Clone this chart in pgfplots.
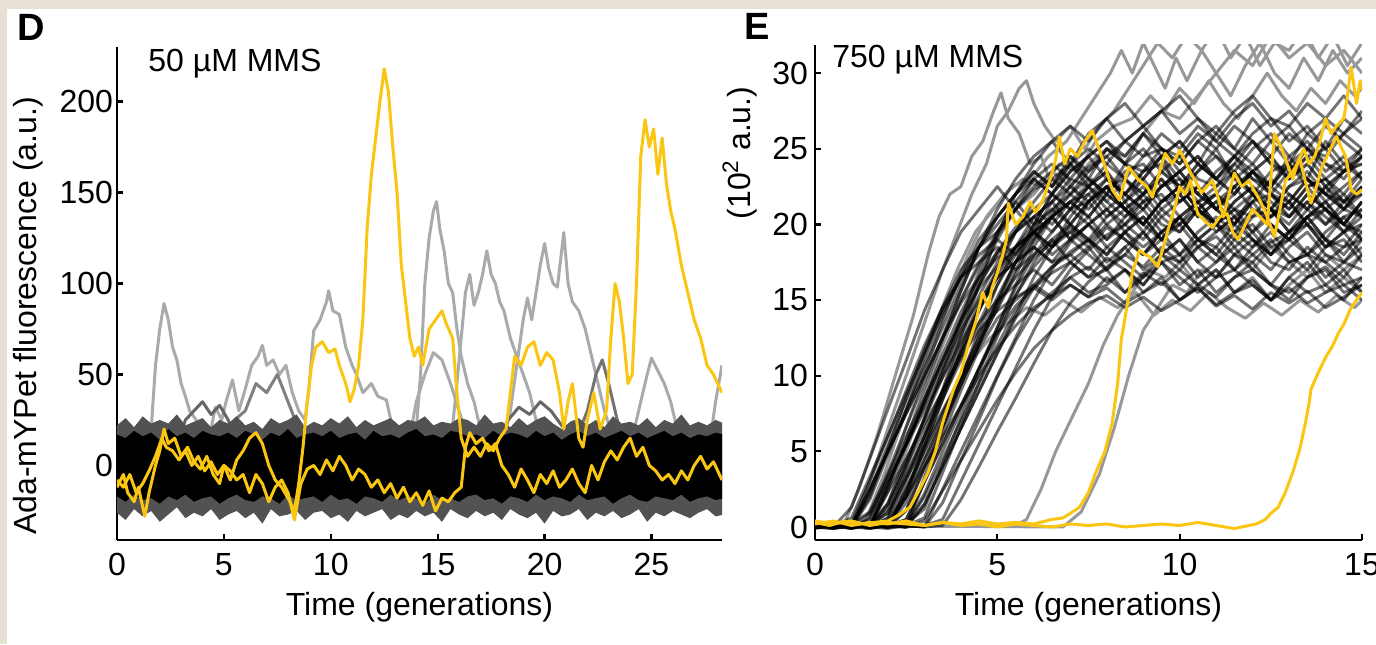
\documentclass[border=0pt]{standalone}
\usepackage{fontspec}
\setmainfont{Liberation Sans}
\usepackage{pgfplots}
\usepackage{pgfplotstable}
\pgfplotsset{compat=1.18}
\definecolor{framebg}{RGB}{231,225,213}
\definecolor{trgold}{RGB}{250,198,18}
\definecolor{trgray}{RGB}{168,170,172}
\definecolor{trgrayE}{RGB}{150,152,154}

% panel E: one row per cell, sampled every 0.5 generation
\pgfplotstableread{
name 0 0.5 1 1.5 2 2.5 3 3.5 4 4.5 5 5.5 6 6.5 7 7.5 8 8.5 9 9.5 10 10.5 11 11.5 12 12.5 13 13.5 14 14.5 15
t1 0.1 0.0 1.3 4.5 7.8 11 14.3 17 19.5 21 22.5 21 23 22 24 22.5 23.5 21.5 23 24.5 22 23.5 25 23 24 22.5 24.5 23 25.5 24 25
t2 0.2 -0.1 0.1 3 6 9 12 14.5 17 18.5 19.5 21 19.5 20.5 19 21.5 20 21 19.5 21 22 20.5 21.5 20 22 21 19.5 21 22.5 21 20.5
t3 0 0.2 0 2.2 5 7.7 10.5 13.2 16 18.5 20.5 22 23.5 22.5 24.5 23 25 24 26 24.5 25.5 24 26 25 27 25.5 24 26 25 27 26
t4 -0.1 0.1 0 2 5.2 8.5 11.7 14.5 16.5 17.5 18.5 17 18 19 17.5 18.5 17 18 19.5 18 17 18.5 17.5 19 18 17 18.5 19.5 18 17.5 19
t5 0.1 0 0.2 1 3.5 6 8.5 11 13.5 16 18 19.5 20.5 21.5 20 21.5 22.5 21 22 20.5 21.5 22.5 21 20 21.5 22 20.5 21.5 20 21 22
t6 0 0.1 -0.1 0.6 3.6 6.6 9.6 12.6 15.6 18.5 21 23 24.5 25.5 24 26 27 25.5 26.5 27.5 26 27 25.5 27 28 26.5 27.5 26 27 28.5 27
t7 0.2 0 0.1 0 2.8 5.5 8.2 11 13.7 15.8 17.2 18.5 19.5 18 19 20 18.5 19.5 18 19 20.5 19 18 19.5 20 18.5 19 20.5 19 18 19.5
t8 0 -0.1 0.1 0 2.6 5.8 9.1 12.4 15.6 18.5 20.5 22 23 22 23.5 24.5 23 22 23.5 24 22.5 23.5 24.5 23 22 23.5 24 22.5 23 24 23
t9 0.1 0.2 0 0.1 1.5 4 6.5 9 11.5 13.5 15 16 17 16 17.5 16.5 17 15.5 16.5 17.5 16 17 15.5 16.5 17.5 16 15 16.5 17 15.5 16
t10 0 0.1 -0.1 0.2 1.2 4.2 7.2 10.2 13.2 16 18.2 19.8 21 20 21.5 22 20.5 21.5 22.5 21 20 21.5 22 21 20.5 22 21 22.5 21 20 21.5
t11 0.2 0 0.1 0 0.6 3.3 6 8.8 11.5 14.3 17 19.5 21.5 23 24 25 24 25.5 26.5 25 24.5 26 25 26.5 25.5 24.5 26 25 26.5 25.5 24.5
t12 0 0.1 0 -0.1 0.1 3 6 9 12 14.8 17 18.5 19.5 20.5 19 20 21 19.5 20.5 19 20 21 19.5 20.5 21.5 20 19 20.5 21 19.5 20
t13 0.1 0 0.2 0 0.1 2 4.5 7 9.5 12 14.5 17 19 20.5 21.5 22.5 21 22 23 21.5 22.5 21 22 23.5 22 21 22.5 23 21.5 22.5 23.5
t14 0 -0.1 0.1 0 0.2 2 5.2 8.5 11.7 14.5 16.5 17.5 18.5 17.5 18 19 17.5 18.5 17 18 19 17.5 18.5 17 18 19 17.5 18 19 17.5 18.5
t15 0.1 0.2 0 0.1 0 1.1 3.9 6.6 9.4 12.1 14.9 17.5 19.5 21.5 23 22.5 24 23 24.5 25 23.5 24.5 23 24 25.5 24 23 24.5 25 23.5 24
t16 0 0.1 -0.1 0.1 0 0.5 3 5.5 8 10.5 13 15.3 17.2 18.5 19.5 20.5 19 20 21 19.5 20.5 19 20 21 19.5 20.5 21.5 20 19 20.5 21
t17 0.2 0 0.1 0 0.1 0 3 6 9 11.8 13.8 15 16 15.2 16.5 15.5 16 17 15.5 16.5 15 16 17 15.5 16 15 16.5 15.5 16 17 15.5
t18 0 0.1 0 0.2 0 0.1 2.2 5 7.7 10.5 13.2 15.8 18 19.5 21 21.5 22.5 21 22 23 21.5 22.5 21 22 23.5 22 21 22.5 23 21.5 22
t19 0.1 0 0.1 -0.1 0.1 0 1.5 4 6.5 9 11.5 13.8 15.8 17.2 18.2 19 18 19.5 18.5 19.5 18 19 20 18.5 19.5 18 19 20 18.5 19.5 18
t20 0 0.1 0 0.1 0 0.2 1.2 4.2 7.2 10.2 13.2 16 18.5 20.5 22 23 22 23.5 24 22.5 23.5 24.5 23 22 23.5 24.5 23 24 22.5 23.5 24.5
t21 0.1 0 0.1 0 -0.1 0.1 0 2.5 5 7.5 10 12.5 15 17 18.8 20 21 20 21.5 22 20.5 21.5 20 21 22 20.5 21.5 20 21 22 20.5
t22 0 0.1 0 0.1 0 0.1 0 1.6 4.4 7.1 9.9 12.3 14.3 15.5 16.5 17.2 16.2 17 16 17.5 16.5 15.5 16.5 17 16 15 16.5 17.5 16 15 16.5
t23 0.1 0 0.2 0 0.1 0 0.1 0.5 3 5.5 8 10.5 13 15.2 17 18.3 19.3 20 19 20.5 19.5 21 20 19 20.5 21 19.5 20.5 21.5 20 19.5
t24 0 0.1 0 0.1 2.3 4.5 6.8 9 11.2 13 14.3 15.2 15.8 15 16 15.2 15.8 14.8 15.5 16.2 15 15.8 14.7 15.5 16.3 15 15.8 14.8 15.5 16 15
t25 0.1 0 0.1 0 0.1 2 4 6 8 10 11.8 13.3 14.5 15.3 16 15.2 16.5 15.5 16.8 16 17 16 15.2 16.5 17 16 15.5 16.5 17.2 16 16.5
t26 0 0.1 0 0.1 0 0.1 0 0.1 1.8 4 6.3 8.5 10.8 13 14.8 16.2 17.2 18 17.2 18.5 17.5 18.5 19.2 18 17.5 18.8 19.5 18 17.5 18.5 19
t27 0 0 0.1 0 0.1 2.1 5.6 9.1 12.6 16 19.3 22 24 25.5 26.5 25.5 27 28 26.5 27.5 28.5 27 26 27.5 28.5 27 26.5 28 27 26 27.5
t28 0.1 0 0.1 2.5 5 7.5 10 12.5 14.8 16.5 17.8 18.5 19.5 18.5 19.8 18.8 20 19 18 19.5 20.5 19 18.5 20 19 18 19.5 20.5 19 18.5 20
t29 0 0.1 0 0.2 0.9 3.2 5.4 7.7 9.9 12.2 14.4 16.7 18.9 20.8 22.5 23.8 24.5 25.5 24.5 26 25 26.5 25.5 24.5 26 27 25.5 26.5 25 26 27
t30 0.1 0 0.1 0 0.1 0 0.4 2.4 4.4 6.4 8.4 10.2 11.8 13 14 14.8 15.3 14.5 15.2 14.3 15 15.8 14.6 15.3 14.4 15.5 14.8 15.6 14.5 15.2 16
t31 0 0.1 0.6 3.3 6 8.8 11.5 14.2 16.5 18.5 20 21.5 20 22 21 22.5 21.5 20.5 22 23 21.5 22.5 21 20 21.5 23 22 21 22.5 21.5 20.5
t32 0.1 0 0 1.8 4.8 7.8 10.8 13.8 16.5 19 20.5 22 23.5 22.5 24 23 22 24 25 23.5 22.5 24 23 24.5 23.5 22.5 24 25 23.5 24.5 23
t33 0 0.1 0 0.5 3 5.5 8 10.5 13 15 16.5 17.5 18.5 17.5 19 18 17 18.5 19.5 18 17.5 19 18 17 18.5 19.5 18 17 18.5 19 17.5
t34 0.1 0 0.1 0 2.4 5.4 8.4 11.4 14.2 16.5 18.2 19.5 20.5 19.5 21 20 19 20.5 21.5 20 19.5 21 22 20.5 19.5 21 20 21.5 20.5 19.5 21
t35 0 0.1 0 0.1 1.6 4.4 7.1 9.9 12.6 15.3 17.5 19.5 21 22 21 22.5 23.5 22 21 22.5 23 21.5 22.5 23.5 22 21 22.5 23.5 22 21.5 23
t36 0.1 0 0.1 0 0.6 3.9 7.2 10.4 13.7 16.9 19.5 21.5 23 24 23 24.5 25.5 24 23.5 25 24 25.5 24.5 23.5 25 26 24.5 25.5 24 23.5 25
t37 0 0.1 0 0.1 0 2.5 5 7.5 10 12.5 14.8 16.5 17.8 18.8 19.5 18.5 19.8 19 18 19.5 20 18.5 19.5 20.5 19 18 19.5 20 18.5 19.5 20.5
t38 0.1 0 0.1 0 0 2.4 5.4 8.4 11.4 14.3 16.8 18.5 20 21 20 21.5 22.5 21 20 21.5 22 20.5 21.5 22.5 21 20.5 22 21 20 21.5 22.5
t39 0 0.1 0 0.1 0 1.1 3.9 6.6 9.4 12.1 14.9 17.5 20 22 23.5 24.5 25.5 24.5 26 25 24 25.5 26.5 25 24 25.5 26.5 25 24.5 26 25
t40 0.1 0 0.1 0 0.1 0.5 3 5.5 8 10.5 12.8 14.6 15.8 16.8 17.5 16.5 17.8 17 16 17.5 18 16.5 17.5 18.5 17 16 17.5 18 16.5 17.5 17
t41 0 0.1 0 0.1 0 0 3.3 6.5 9.8 13 16 18.5 20.5 21.5 22.5 21.5 23 22 21 22.5 23.5 22 21 22.5 23.5 22.5 21.5 23 22 21 22.5
t42 0.1 0 0.1 0 0.1 0 1.5 4 6.5 9 11.5 14 16.5 18.5 20.5 22 23 22 23.5 24.5 23 22 23.5 24.5 23 22.5 24 23 22 23.5 24.5
t43 0 0.1 0 0.1 0 0.1 0.6 3.6 6.6 9.6 12.6 15.3 17.5 19 20 19 20.5 21.5 20 19 20.5 21.5 20 19.5 21 20 19 20.5 21.5 20 19
t44 0.1 0 0.1 0.9 3.2 5.4 7.7 9.9 12.2 14.4 16.5 18.2 19.5 20.5 21.5 20.5 22 21 20 21.5 22.5 21 20 21.5 22.5 21.5 20.5 22 21 20 21.5
t45 0 0.1 0 2.4 5.4 8.4 11.4 14.2 16.5 18 19 18 19.5 18.5 20 19 18 19.5 20.5 19 18 19.5 20.5 19.5 18.5 20 19 18 19.5 20.5 19
t46 0.1 0 0.1 0 0.1 1.6 4.4 7.1 9.9 12.6 15.2 17.5 19.2 20.5 21.5 20.5 22 21 20 21.5 22.5 21 20 21.5 22.5 21 20.5 22 21 20 21.5
t47 0 0.1 0 0.1 2.8 5.5 8.2 11 13.7 16.5 19 21 22.5 23.5 24.5 23.5 25 24 23 24.5 25.5 24 23 24.5 25.5 24 23.5 25 24 23 24.5
t48 0.1 0 0.1 0 1 3.5 6 8.5 11 13.5 16 18 19.8 21 22 21 22.5 23 21.5 22.5 23.5 22 21 22.5 23.5 22 21.5 23 22 21 22.5
t49 0 0.1 0 0.1 0 0.1 2 4.5 7 9.5 12 14.3 16 17.2 18 17 18.5 17.5 16.5 18 19 17.5 16.5 18 19 17.5 17 18.5 17.5 16.5 18
t50 0.1 0 0.1 2.5 5 7.5 10 12.5 15 17.3 19.3 21 22.3 23 22 23.5 24.5 23 22 23.5 24.5 23 22.5 24 23 22 23.5 24.5 23 22 23.5
}\rawE
\pgfplotstabletranspose[colnames from=name, input colnames to=x]{\tracesE}{\rawE}

\pgfplotsset{
  panel/.style={
    scale only axis, anchor=south west,
    axis lines=left, axis line style={-, line width=1.1pt},
    tick align=inside, major tick length=3pt,
    tick style={line width=1.1pt, black},
    font=\fontsize{16}{19}\selectfont,
    tick label style={font=\fontsize{16}{19}\selectfont},
    /pgf/number format/assume math mode=true,
    xticklabel style={yshift=-3pt},
    xlabel style={at={(axis description cs:0.5,0)}, anchor=base, yshift=-37.5pt},
    xlabel={Time (generations)},
  },
  tr/.style={line width=1.5pt, line join=round},
}

\begin{document}
\begin{tikzpicture}[font=\fontsize{16}{19}\selectfont]
\path[use as bounding box] (0,0) rectangle (688pt,322pt);
\clip (0,0) rectangle (688pt,322pt);
\fill[framebg] (0,0) rectangle (688pt,322pt);
\fill[white] (3.5pt,0) rectangle (688pt,317.5pt);

% ---------------- D ----------------
\begin{axis}[panel, at={(58.5pt,52pt)}, width=302.5pt, height=246.5pt,
  xmin=0, xmax=28.3, ymin=-41, ymax=230,
  xtick={0,5,...,25}, ytick={0,50,...,200},
  yticklabel style={xshift=1.5pt}]
\addplot[tr, trgray] coordinates {(1.0,0) (1.3,5) (1.6,20) (1.8,55) (2.0,75) (2.2,89) (2.4,80) (2.6,65) (2.8,58) (3.0,45) (3.2,38) (3.4,30) (3.7,25) (4.0,15) (4.4,8) (5.0,5)};
\addplot[tr, trgray] coordinates {(4.0,5) (4.4,20) (4.6,32) (4.9,25) (5.1,35) (5.4,47) (5.7,30) (6.0,42) (6.3,55) (6.6,60) (6.8,66) (7.0,55) (7.3,58) (7.6,50) (7.9,55) (8.2,40) (8.5,30) (8.8,25) (9.0,45) (9.2,74) (9.5,80) (9.8,90) (9.9,96) (10.1,85) (10.4,83) (10.7,65) (11.0,55) (11.2,50) (11.5,40) (11.9,45) (12.2,38) (12.6,36) (12.9,20) (13.2,5)};
\addplot[tr, black!50] coordinates {(5.0,10) (5.5,25) (6.0,30) (6.5,45) (7.0,40) (7.5,50) (8.0,35) (8.5,20) (9.0,10)};
\addplot[tr, trgray] coordinates {(13.8,5) (14.0,20) (14.2,50) (14.4,100) (14.6,125) (14.8,140) (14.95,145) (15.1,130) (15.3,118) (15.5,100) (15.7,95) (15.9,75) (16.1,60) (16.4,45) (16.7,35) (17.0,20) (17.4,10) (17.8,0)};
\addplot[tr, trgray] coordinates {(15.6,10) (15.9,45) (16.1,70) (16.3,95) (16.5,105) (16.7,88) (16.9,95) (17.1,105) (17.3,118) (17.5,105) (17.7,100) (17.9,90) (18.1,85) (18.4,70) (18.7,60) (19.0,50) (19.3,40) (19.6,25) (20.0,10)};
\addplot[tr, trgray] coordinates {(18.0,10) (18.4,30) (18.7,55) (19.0,80) (19.2,92) (19.4,80) (19.6,95) (19.8,110) (20.0,122) (20.2,108) (20.4,100) (20.6,98) (20.8,118) (20.9,128) (21.1,100) (21.3,90) (21.6,85) (21.9,75) (22.2,60) (22.5,45) (22.8,30) (23.2,15) (23.6,5)};
\addplot[tr, black!55] coordinates {(21.5,15) (22.0,30) (22.4,50) (22.7,58) (23.0,45) (23.4,25) (23.8,10)};
\addplot[tr, trgray] coordinates {(23.8,5) (24.2,20) (24.5,35) (24.8,50) (25.0,59) (25.3,52) (25.6,45) (25.9,35) (26.2,20) (26.6,10) (27.0,0) (27.4,-5) (27.7,10) (28.0,35) (28.3,55)};
\addplot[tr, trgray] coordinates {(13.6,10) (14.0,35) (14.4,50) (14.8,62) (15.2,58) (15.6,45) (16.0,30) (16.4,15)};
\addplot[tr, black!60] coordinates {(2.8,10) (3.2,25) (3.6,30) (4.0,35) (4.4,28) (4.8,33) (5.2,25) (5.6,15)};
\addplot[tr, black!60] coordinates {(17.8,10) (18.3,25) (18.8,32) (19.3,28) (19.8,35) (20.3,30) (20.8,22) (21.3,15)};
% the band of non-responding cells: outer edge, then dense core
\addplot[fill=black!68, draw=none] coordinates {(0.0,22) (0.4,26) (0.8,21) (1.2,27) (1.6,23) (2.0,25) (2.4,23) (2.8,28) (3.2,22) (3.6,24) (4.0,26) (4.4,21) (4.8,25) (5.2,23) (5.6,27) (6.0,22) (6.4,24) (6.8,20) (7.2,26) (7.6,23) (8.0,25) (8.4,28) (8.8,21) (9.2,24) (9.6,22) (10.0,26) (10.4,23) (10.8,27) (11.2,21) (11.6,25) (12.0,22) (12.4,24) (12.8,26) (13.2,22) (13.6,25) (14.0,24) (14.4,27) (14.8,22) (15.2,24) (15.6,23) (16.0,26) (16.4,25) (16.8,22) (17.2,28) (17.6,23) (18.0,24) (18.4,21) (18.8,26) (19.2,22) (19.6,25) (20.0,27) (20.4,23) (20.8,20) (21.2,24) (21.6,26) (22.0,22) (22.4,25) (22.8,21) (23.2,27) (23.6,23) (24.0,24) (24.4,22) (24.8,26) (25.2,21) (25.6,25) (26.0,23) (26.4,28) (26.8,22) (27.2,24) (27.6,22) (28.0,25) (28.4,23)
 (28.4,-27) (28.0,-28) (27.6,-24) (27.2,-26) (26.8,-29) (26.4,-27) (26.0,-25) (25.6,-28) (25.2,-26) (24.8,-31) (24.4,-24) (24.0,-27) (23.6,-29) (23.2,-25) (22.8,-28) (22.4,-26) (22.0,-30) (21.6,-24) (21.2,-27) (20.8,-28) (20.4,-25) (20.0,-32) (19.6,-26) (19.2,-29) (18.8,-27) (18.4,-24) (18.0,-30) (17.6,-26) (17.2,-28) (16.8,-25) (16.4,-29) (16.0,-27) (15.6,-24) (15.2,-31) (14.8,-26) (14.4,-28) (14.0,-25) (13.6,-29) (13.2,-27) (12.8,-30) (12.4,-24) (12.0,-26) (11.6,-28) (11.2,-25) (10.8,-31) (10.4,-27) (10.0,-29) (9.6,-25) (9.2,-26) (8.8,-30) (8.4,-25) (8.0,-27) (7.6,-28) (7.2,-24) (6.8,-32) (6.4,-26) (6.0,-29) (5.6,-25) (5.2,-27) (4.8,-30) (4.4,-24) (4.0,-28) (3.6,-26) (3.2,-29) (2.8,-23) (2.4,-27) (2.0,-31) (1.6,-25) (1.2,-28) (0.8,-24) (0.4,-30) (0.0,-26)};
\addplot[fill=black, draw=none] coordinates {(0.0,17) (0.4,15) (0.8,19) (1.2,16) (1.6,18) (2.0,14) (2.4,20) (2.8,16) (3.2,18) (3.6,15) (4.0,19) (4.4,17) (4.8,16) (5.2,18) (5.6,15) (6.0,19) (6.4,17) (6.8,14) (7.2,18) (7.6,16) (8.0,20) (8.4,15) (8.8,17) (9.2,18) (9.6,16) (10.0,19) (10.4,15) (10.8,17) (11.2,18) (11.6,14) (12.0,19) (12.4,16) (12.8,17) (13.2,15) (13.6,18) (14.0,20) (14.4,16) (14.8,17) (15.2,15) (15.6,19) (16.0,18) (16.4,16) (16.8,17) (17.2,15) (17.6,19) (18.0,16) (18.4,18) (18.8,17) (19.2,15) (19.6,19) (20.0,16) (20.4,18) (20.8,14) (21.2,17) (21.6,19) (22.0,16) (22.4,18) (22.8,15) (23.2,17) (23.6,19) (24.0,16) (24.4,18) (24.8,15) (25.2,17) (25.6,19) (26.0,16) (26.4,18) (26.8,15) (27.2,17) (27.6,16) (28.0,18) (28.4,17)
 (28.4,-18) (28.0,-19) (27.6,-17) (27.2,-18) (26.8,-20) (26.4,-16) (26.0,-19) (25.6,-18) (25.2,-17) (24.8,-20) (24.4,-19) (24.0,-16) (23.6,-18) (23.2,-21) (22.8,-17) (22.4,-18) (22.0,-19) (21.6,-16) (21.2,-20) (20.8,-18) (20.4,-17) (20.0,-19) (19.6,-16) (19.2,-20) (18.8,-18) (18.4,-17) (18.0,-21) (17.6,-18) (17.2,-19) (16.8,-16) (16.4,-17) (16.0,-20) (15.6,-18) (15.2,-19) (14.8,-16) (14.4,-21) (14.0,-18) (13.6,-17) (13.2,-19) (12.8,-16) (12.4,-20) (12.0,-18) (11.6,-17) (11.2,-21) (10.8,-18) (10.4,-19) (10.0,-16) (9.6,-20) (9.2,-17) (8.8,-18) (8.4,-19) (8.0,-16) (7.6,-21) (7.2,-18) (6.8,-17) (6.4,-20) (6.0,-19) (5.6,-16) (5.2,-18) (4.8,-21) (4.4,-17) (4.0,-18) (3.6,-20) (3.2,-16) (2.8,-19) (2.4,-17) (2.0,-21) (1.6,-18) (1.2,-19) (0.8,-16) (0.4,-20) (0.0,-17)};
% yellow cells
\addplot[tr, trgold] coordinates {(0,-12) (0.3,-5) (0.5,-15) (0.8,-20) (1.0,-12) (1.3,-28) (1.5,-15) (1.8,0) (2.0,8) (2.2,20) (2.4,12) (2.7,15) (3.0,5) (3.3,10) (3.6,2) (3.9,-2) (4.2,5) (4.5,-5) (4.8,-10) (5.0,0) (5.3,-3) (5.6,-8) (5.9,-5) (6.2,-15) (6.5,-5) (6.8,-10) (7.1,-20) (7.4,-12) (7.7,-8) (8.0,-15) (8.3,-30) (8.6,-10) (8.9,-2) (9.2,0) (9.5,-5) (9.8,3) (10.1,-3) (10.4,5) (10.7,0) (11.0,-8) (11.3,-2) (11.6,-5) (11.9,-12) (12.2,-8) (12.5,-15) (12.8,-10) (13.1,-18) (13.4,-12) (13.7,-20) (14.0,-15) (14.3,-22) (14.6,-14) (14.9,-25) (15.2,-18) (15.5,-20) (15.8,-15) (16.1,-12) (16.3,10) (16.5,18) (16.8,12) (17.1,15) (17.4,8) (17.7,12) (18.0,0) (18.3,-5) (18.6,-12) (18.9,-2) (19.2,-8) (19.5,-15) (19.8,-5) (20.1,-10) (20.4,-3) (20.7,-12) (21.0,-8) (21.3,-2) (21.6,-10) (21.9,-15) (22.2,0) (22.5,-8) (22.8,2) (23.1,8) (23.4,3) (23.7,10) (24.0,15) (24.3,5) (24.6,10) (24.9,0) (25.2,-3) (25.5,-8) (25.8,-5) (26.1,-10) (26.4,-3) (26.7,-8) (27.0,0) (27.3,5) (27.6,-2) (27.9,2) (28.3,-8)};
\addplot[tr, trgold] coordinates {(0,-8) (0.3,-12) (0.6,-5) (0.9,-15) (1.2,-10) (1.5,-3) (1.8,5) (2.1,15) (2.3,10) (2.6,8) (2.9,3) (3.2,8) (3.5,0) (3.8,5) (4.1,-3) (4.4,2) (4.7,-5) (5.0,0) (5.3,-8) (5.6,3) (5.9,8) (6.2,15) (6.5,18) (6.8,12) (7.1,0) (7.4,-8) (7.7,-12) (8.0,-18) (8.3,-25) (8.5,-10) (8.7,10) (8.9,35) (9.1,55) (9.3,65) (9.6,68) (9.9,62) (10.2,64) (10.4,55) (10.7,45) (10.9,35) (11.1,42) (11.3,55) (11.5,80) (11.7,130) (11.9,160) (12.1,180) (12.3,200) (12.5,218) (12.7,205) (12.9,175) (13.1,150) (13.3,110) (13.5,90) (13.7,70) (13.9,60) (14.1,65) (14.3,55) (14.6,75) (14.9,80) (15.2,85) (15.4,78) (15.7,70) (15.9,40) (16.1,15) (16.4,5) (16.7,10) (17.0,5) (17.3,12) (17.6,8) (17.9,15) (18.2,20) (18.4,40) (18.6,60) (18.9,55) (19.2,65) (19.5,68) (19.8,55) (20.1,62) (20.4,58) (20.7,40) (20.9,20) (21.1,35) (21.3,45) (21.6,15) (21.8,10) (22.0,25) (22.3,40) (22.6,20) (22.9,30) (23.1,70) (23.3,100) (23.5,90) (23.7,70) (23.9,45) (24.1,50) (24.3,100) (24.5,170) (24.7,190) (24.9,175) (25.1,185) (25.3,160) (25.5,180) (25.7,155) (25.9,140) (26.1,130) (26.4,110) (26.7,95) (27.0,80) (27.3,70) (27.6,55) (27.9,50) (28.1,45) (28.3,40)};
\end{axis}

% ---------------- E ----------------
\begin{axis}[panel, at={(407.5pt,52pt)}, width=273.5pt, height=247.5pt,
  xmin=0, xmax=15, ymin=-0.86, ymax=31.86,
  xtick={0,5,10,15}, ytick={0,5,...,30}]
\addplot[tr, trgrayE] coordinates {(0,0.1) (0.5,0) (0.8,0.2) (1.2,2.5) (1.7,6) (2.2,10) (2.7,14) (3.1,18) (3.4,20.5) (3.7,22) (4.0,22.5) (4.3,24.5) (4.6,25.5) (4.9,27.5) (5.1,28.7) (5.3,27) (5.6,26) (5.9,24) (6.2,24.5) (6.5,22.5) (6.8,23.5) (7.2,22) (7.6,23) (8,21.5) (8.5,23) (9,22) (9.5,23.5) (10,22.5) (10.5,24) (11,23) (11.5,22) (12,23.5) (12.5,24.5) (13,23) (13.5,24) (14,22.5) (14.5,23.5) (15,24)};
\addplot[tr, trgrayE] coordinates {(0,0) (0.6,0.1) (1.0,0.3) (1.5,3) (2.0,6.5) (2.5,10) (3.0,13.5) (3.5,17) (3.9,19.5) (4.3,22) (4.7,24) (5.0,26.5) (5.3,27.5) (5.6,29) (5.8,29.5) (6.0,28) (6.3,26.5) (6.6,25.5) (7.0,26.5) (7.4,25) (7.8,26.5) (8.2,27.5) (8.6,29) (9.0,30.5) (9.4,32) (9.8,31) (10.2,32.5) (10.6,31.5) (11,33) (11.4,31) (11.8,32.5) (12.2,30.5) (12.6,32) (13,31.5) (13.4,33) (13.8,31) (14.2,32.5) (14.6,30.5) (15,32)};
\addplot[tr, trgrayE] coordinates {(0,0.1) (1.0,0) (1.4,0.5) (1.9,3.5) (2.4,7) (2.9,10.5) (3.4,14) (3.9,17) (4.4,19.5) (4.9,21) (5.4,22.5) (5.9,23) (6.4,24.5) (6.9,25.5) (7.3,27) (7.7,28.5) (8.1,30) (8.4,31.5) (8.7,30) (9.0,32) (9.3,30.5) (9.6,29) (9.9,31) (10.2,29.5) (10.6,31.5) (11,30) (11.4,28.5) (11.8,30.5) (12.2,32) (12.6,30) (13,29) (13.4,31) (13.8,29.5) (14.2,31.5) (14.6,30) (15,31)};
\addplot[tr, trgrayE] coordinates {(0,0) (1.3,0.2) (1.7,1.5) (2.2,4.5) (2.7,8) (3.2,11.5) (3.7,15) (4.2,18) (4.7,20.5) (5.2,22) (5.7,23) (6.2,22.5) (6.7,24) (7.2,23.5) (7.7,25.5) (8.2,26.5) (8.7,27) (9.2,28.5) (9.6,27.5) (10,29) (10.4,28) (10.8,29.5) (11.2,28) (11.6,27) (12,28.5) (12.4,30) (12.8,28.5) (13.2,27.5) (13.6,29) (14,28) (14.4,29.5) (14.8,28.5) (15,29)};
\addplot[tr, trgrayE] coordinates {(0,0.1) (1.6,0.1) (2.0,1.5) (2.5,5) (3.0,8.5) (3.5,12) (4,15) (4.5,17.5) (5,19.5) (5.5,21) (6,22) (6.5,23.5) (7,22.5) (7.5,24) (8,25) (8.5,24.5) (9,26) (9.5,27.5) (10,27) (10.5,28.5) (11,30) (11.5,31.5) (12,30.5) (12.5,32.5) (13,31) (13.5,32) (14,30.5) (14.5,31.5) (15,30)};
\addplot[tr, trgrayE] coordinates {(0,0) (5.5,0.1) (5.8,0.5) (6.2,2.5) (6.6,5) (7.0,7) (7.5,9.5) (7.9,12) (8.3,14) (8.7,15.5) (9.1,17) (9.6,16.5) (10,17.5) (10.5,16) (11,17) (11.5,15.5) (12,16.5) (12.5,15) (13,16) (13.5,17) (14,15.5) (14.5,16.5) (15,15.5)};
\addplot[tr, trgrayE] coordinates {(0,0.1) (6.8,0) (7.3,1) (7.8,3.5) (8.2,6.5) (8.6,10) (9.0,13) (9.4,14.5) (9.8,16) (10.2,15.5) (10.6,17) (11,16.5) (11.5,18) (12,17) (12.5,18.5) (13,17.5) (13.5,16.5) (14,18) (14.5,17) (15,18)};
\addplot[tr, trgrayE] coordinates {(0,0) (1.9,0.1) (2.3,1.5) (2.8,4) (3.3,6.5) (3.8,9) (4.3,11) (4.8,12.5) (5.3,13.5) (5.8,14.5) (6.3,14) (6.8,15) (7.3,14.2) (7.8,15.2) (8.3,14.5) (8.8,15.5) (9.3,14) (9.8,15) (10.3,14.3) (10.8,15.5) (11.3,14.5) (11.8,13.8) (12.3,14.8) (12.8,14) (13.3,15) (13.8,14.2) (14.3,15.3) (14.8,14.5) (15,15)};
\pgfplotsinvokeforeach{1,...,50}{
  \addplot[tr, black, draw opacity=0.55, line width=1.45pt] table[x=x, y=t#1] {\tracesE};
}
\addplot[tr, trgold] coordinates {(0,0.4) (0.5,0.2) (1,0.4) (1.5,0.1) (2,0.3) (2.5,0.2) (3,0.1) (3.5,0.3) (4,0.1) (4.5,0.2) (5,0) (5.5,0.2) (6,0.1) (6.5,0) (7,0.2) (7.5,0.1) (8,0.2) (8.5,0) (9,0.1) (9.5,0.2) (10,0.1) (10.5,0.3) (11,0.1) (11.5,-0.1) (11.9,0.1) (12.1,0.2) (12.35,0.5) (12.5,0.9) (12.7,1.3) (12.9,2.3) (13.1,3.6) (13.3,5.2) (13.45,6.9) (13.55,8.2) (13.6,9.1) (13.8,10.2) (14.0,11.2) (14.2,12) (14.35,12.8) (14.5,13.4) (14.7,14.5) (14.85,15) (15,15.5)};
\addplot[tr, trgold] coordinates {(0,0.2) (0.5,0.4) (1,0.1) (1.5,0.3) (2,0.2) (2.5,0.4) (3,0.1) (3.5,0.3) (4,0.2) (4.5,0.4) (5,0.2) (5.5,0.3) (6,0.2) (6.5,0.5) (6.8,0.6) (7.0,0.9) (7.25,1.3) (7.5,2.3) (7.7,3.6) (7.95,5) (8.15,6.9) (8.3,9.5) (8.4,12.4) (8.55,14.5) (8.7,16.8) (8.9,18.3) (9.05,18) (9.15,17.9) (9.3,17.5) (9.4,17.2) (9.55,18.5) (9.7,19.8) (9.85,21) (10,22.5) (10.15,22) (10.3,22.9) (10.4,21.5) (10.5,20.7) (10.7,20.2) (10.9,19.8) (11.1,20.5) (11.3,20.7) (11.45,19.5) (11.6,19) (11.8,20) (12.0,21) (12.2,20.5) (12.4,20) (12.5,23) (12.6,26) (12.8,25) (12.95,24) (13.1,23) (13.25,24.2) (13.4,25) (13.55,24) (13.7,24.5) (13.85,25.5) (14.0,27) (14.15,26) (14.3,26.5) (14.5,27) (14.6,28.5) (14.7,30.4) (14.85,28) (14.95,29.5) (15,28.9)};
\addplot[tr, trgold] coordinates {(0,0.3) (0.4,0.1) (0.8,0.4) (1.2,0.2) (1.6,0.3) (2.0,0.4) (2.3,0.8) (2.6,1.3) (2.85,2.4) (3.1,3.6) (3.3,5) (3.5,6.9) (3.65,8) (3.8,9.1) (4.0,10.2) (4.2,12) (4.4,13.5) (4.6,15.5) (4.75,14.5) (4.85,15.8) (5.0,16.8) (5.15,18) (5.25,19) (5.3,21.4) (5.5,20) (5.7,20.5) (5.9,21.5) (6.05,20.8) (6.25,21.6) (6.45,23) (6.6,24.3) (6.7,25.8) (6.85,24) (7.0,25) (7.2,24.5) (7.4,25.5) (7.6,26.2) (7.8,24.9) (8.0,23.5) (8.15,22.3) (8.35,21.6) (8.6,23.8) (8.85,23) (9.1,22.5) (9.25,21.8) (9.45,23.5) (9.6,24.7) (9.8,24) (10,24.9) (10.15,24.2) (10.3,23.4) (10.45,22.8) (10.6,22.1) (10.9,22.9) (11.05,21.8) (11.2,20.5) (11.35,22) (11.5,23.4) (11.7,22.5) (11.9,22.9) (12.05,22.2) (12.2,21.6) (12.4,20.5) (12.6,19.2) (12.75,21) (12.9,22.9) (13.1,23.5) (13.3,24.3) (13.45,22.8) (13.6,21.4) (13.75,22.5) (13.9,23.8) (14.1,24.8) (14.3,25.8) (14.45,25) (14.55,24.5) (14.65,23.2) (14.7,22.3) (14.85,22) (15,22.3)};
\end{axis}

\node[font=\fontsize{19}{22}\selectfont\bfseries] at (15.5pt,308.5pt) {D};
\node[font=\fontsize{19}{22}\selectfont\bfseries] at (378.5pt,309pt) {E};
\node[anchor=base west, inner sep=0pt] at (74pt,286pt) {50 µM MMS};
\node[anchor=base west, inner sep=0pt] at (416pt,288pt) {750 µM MMS};
\node[rotate=90] at (14.25pt,164pt) {Ada-mYPet fluorescence (a.u.)};
\node[rotate=90] at (370pt,245.5pt) {(10\textsuperscript{2} a.u.)};
\end{tikzpicture}
\end{document}
